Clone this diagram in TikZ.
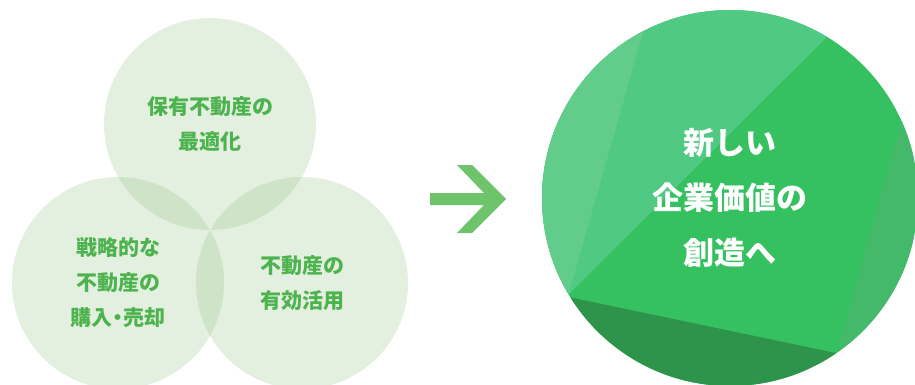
\documentclass[tikz,border=0pt]{standalone}
\usepackage{fontspec}
\newfontfamily\cjk{Noto Sans CJK JP}
\definecolor{venn}{HTML}{8FBF7F}
\definecolor{venntext}{HTML}{4DB34F}
\definecolor{arrowc}{HTML}{6DC46B}
\definecolor{gmain}{HTML}{36C161}
\definecolor{gupper}{HTML}{50C983}
\definecolor{glight}{HTML}{62CD8B}
\definecolor{gright}{HTML}{45B96A}
\definecolor{gbottom}{HTML}{2F944B}
\tikzset{
  vennc/.style={circle, minimum size=212pt, inner sep=0pt, fill=venn, fill opacity=0.25, text opacity=1,
    text=venntext, align=center, font=\cjk\bfseries\fontsize{21}{35}\selectfont},
  bigc/.style={circle, minimum size=376pt, inner sep=0pt, fill=gmain},
  bigtext/.style={text=white, align=center, font=\cjk\bfseries\fontsize{31}{55}\selectfont},
}
\begin{document}
\begin{tikzpicture}[x=1pt,y=-1pt]
\useasboundingbox (0,0) rectangle (915,385);
\node[vennc] (c1) at (210,124) {保有不動産の\\最適化};
\node[vennc] (c2) at (118,283) {戦略的な\\不動産の\\購入\hspace{-0.25em}・\hspace{-0.25em}売却};
\node[vennc] (c3) at (302,283) {不動産の\\有効活用};
\node[bigc] (big) at (730,198) {};
\begin{scope}
  \clip (big.center) circle[radius=188pt];
  \fill[gupper] (540,323) -- (880,-16) -- (500,-16) -- cycle;
  \fill[glight] (658,-20) -- (564,310) -- (500,310) -- (500,-20) -- cycle;
  \fill[gright] (935,0) -- (824,400) -- (960,400) -- (960,0) -- cycle;
  \fill[gbottom] (540,291) -- (960,379) -- (960,400) -- (540,400) -- cycle;
\end{scope}
\node[bigtext] (bt) at (big.center) {新しい\\企業価値の\\創造へ};
\fill[arrowc] (430,193) -- (484,193) -- (457,165) -- (472,165) -- (506,199) -- (472,233) -- (457,233) -- (484,205) -- (430,205) -- cycle;
\end{tikzpicture}
\end{document}
